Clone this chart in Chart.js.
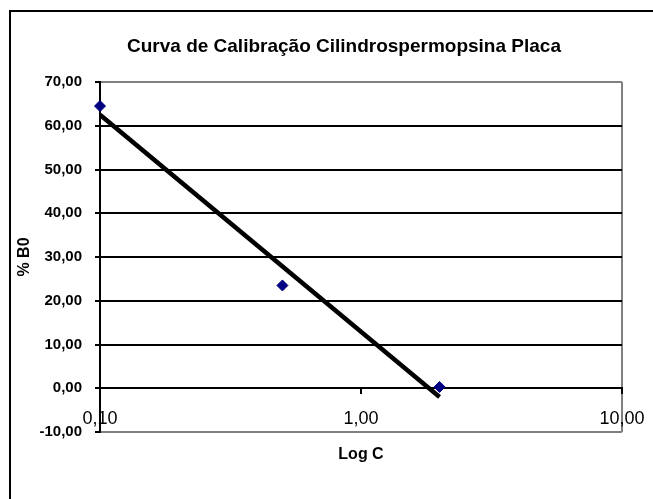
<!DOCTYPE html>
<html>
<head>
<meta charset="utf-8">
<script src="https://cdn.jsdelivr.net/npm/chart.js@4.4.0/dist/chart.umd.min.js"></script>
<style>
    html, body { margin: 0; padding: 0; background: #fff; }
    canvas { display: block; }
</style>
</head>
<body>
<canvas id="grafico-calibracao" width="653" height="499"></canvas>
<script>
// Dados
const tituloGrafico = 'Curva de Calibração Cilindrospermopsina Placa';
const concentracoes = [0.1, 0.5, 2];
const percentB0 = [64.5, 23.5, 0.3];

// Linha de tendência (extremos)
const tendenciaX = [0.1, 2];
const tendenciaY = [62.5, -2.0];

// Marcas dos eixos
const ticksX = [0.1, 1, 10];
const ticksY = [-10, 0, 10, 20, 30, 40, 50, 60, 70];

const fonte = 'Arial, "Liberation Sans", sans-serif';

function formatarNumero(v) {
    return Number(v).toFixed(2).replace('.', ',');
}

// Moldura externa e título
const pluginMoldura = {
    id: 'moldura',
    beforeDraw(chart) {
        const ctx = chart.ctx;
        ctx.save();
        ctx.fillStyle = '#fff';
        ctx.fillRect(0, 0, chart.width, chart.height);
        ctx.strokeStyle = '#000';
        ctx.lineWidth = 2;
        ctx.beginPath();
        ctx.moveTo(10, chart.height);
        ctx.lineTo(10, 11);
        ctx.lineTo(chart.width, 11);
        ctx.stroke();
        ctx.fillStyle = '#000';
        ctx.font = 'bold 19px ' + fonte;
        ctx.textBaseline = 'middle';
        ctx.textAlign = 'left';
        ctx.fillText(tituloGrafico, 127, 47);
        ctx.restore();
    }
};

const ctx = document.getElementById('grafico-calibracao').getContext('2d');

new Chart(ctx, {
    type: 'scatter',
    data: {
        datasets: [
            {
                label: '% B0',
                data: concentracoes.map((c, i) => ({ x: c, y: percentB0[i] })),
                pointStyle: 'rectRot',
                pointRadius: 5.5,
                pointBackgroundColor: '#000080',
                pointBorderColor: '#000080',
                pointBorderWidth: 1,
                showLine: false,
                clip: false
            },
            {
                label: 'Tendência',
                data: tendenciaX.map((c, i) => ({ x: c, y: tendenciaY[i] })),
                showLine: true,
                borderColor: '#000',
                borderWidth: 4.5,
                pointRadius: 0,
                fill: false
            }
        ]
    },
    options: {
        responsive: false,
        animation: false,
        layout: {
            padding: { left: 10, right: 31, top: 82, bottom: 25 }
        },
        plugins: {
            legend: { display: false },
            title: { display: false },
            tooltip: { enabled: false }
        },
        scales: {
            x: {
                type: 'logarithmic',
                min: 0.1,
                max: 10,
                position: { y: 0 },
                afterBuildTicks: scale => {
                    scale.ticks = ticksX.map(v => ({ value: v }));
                },
                afterFit: scale => {
                    scale.paddingLeft = 0;
                    scale.paddingRight = 0;
                    scale.paddingTop = 0;
                    scale.paddingBottom = 0;
                },
                border: { display: true, color: '#000', width: 2 },
                grid: {
                    color: c => (c.tick && c.tick.value === 10) ? '#808080' : 'rgba(0,0,0,0)',
                    tickColor: '#000',
                    lineWidth: 2,
                    tickLength: 5
                },
                ticks: {
                    autoSkip: false,
                    maxRotation: 0,
                    padding: 15,
                    color: '#000',
                    font: { family: fonte, size: 18 },
                    callback: v => formatarNumero(v)
                }
            },
            x2: {
                type: 'linear',
                position: 'bottom',
                afterFit: scale => {
                    scale.height = 42;
                },
                grid: { display: false },
                border: { display: false },
                ticks: { display: false },
                title: {
                    display: true,
                    text: 'Log C',
                    color: '#000',
                    font: { family: fonte, size: 16, weight: 'bold' },
                    padding: { top: 14, bottom: 10 }
                }
            },
            y: {
                type: 'linear',
                min: -10,
                max: 70,
                position: 'left',
                afterBuildTicks: scale => {
                    scale.ticks = ticksY.map(v => ({ value: v }));
                },
                afterFit: scale => {
                    scale.width = 90;
                    scale.paddingTop = 0;
                    scale.paddingBottom = 0;
                },
                border: { display: true, color: '#000', width: 2 },
                grid: {
                    color: c => (c.tick && (c.tick.value === 70 || c.tick.value === -10)) ? '#808080' : '#000',
                    tickColor: '#000',
                    lineWidth: 2,
                    tickLength: 5
                },
                ticks: {
                    padding: 13,
                    color: '#000',
                    font: { family: fonte, size: 15, weight: 'bold' },
                    callback: v => formatarNumero(v)
                },
                title: {
                    display: true,
                    text: '% B0',
                    color: '#000',
                    font: { family: fonte, size: 16, weight: 'bold' },
                    padding: { top: 5, bottom: 0 }
                }
            }
        }
    },
    plugins: [pluginMoldura]
});
</script>
</body>
</html>
